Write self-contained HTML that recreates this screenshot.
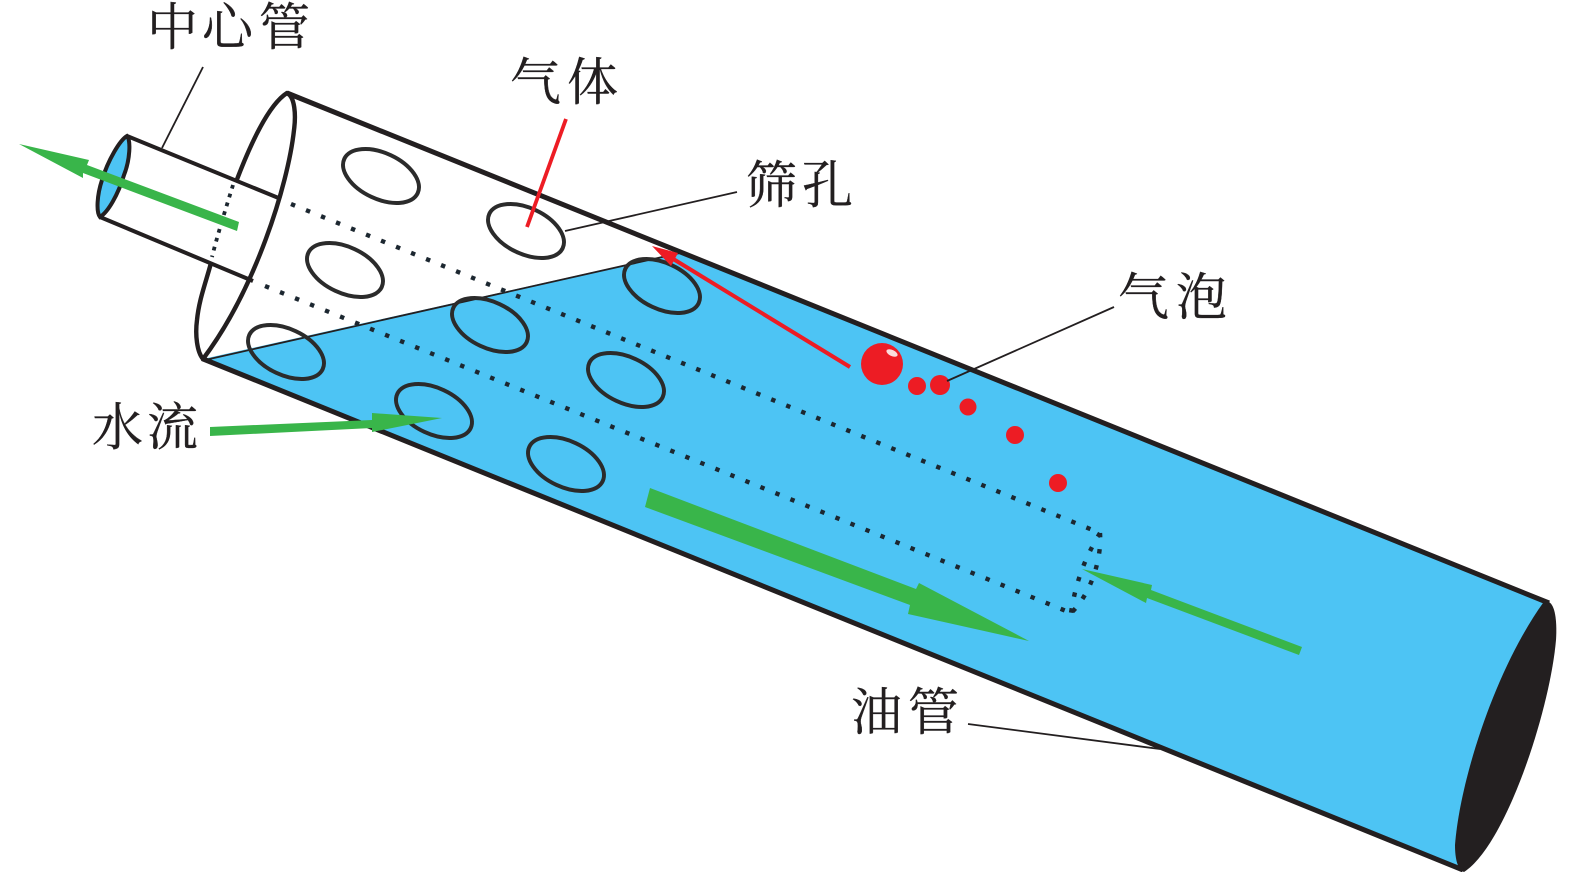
<!DOCTYPE html>
<html><head><meta charset="utf-8"><style>
html,body{margin:0;padding:0;background:#fff;width:1575px;height:872px;overflow:hidden}
svg{display:block}
text{font-family:"Liberation Serif","Noto Serif CJK SC",serif;font-size:51px;fill:#231f20;stroke:#231f20;stroke-width:.35}
</style></head><body>
<svg width="1575" height="872" viewBox="0 0 1575 872" xmlns="http://www.w3.org/2000/svg">
<!-- water -->
<path d="M203,359 L660,257 L680,253 L1549,603 L1463,870 Z" fill="#4dc4f4"/>
<!-- dark end -->
<path d="M1543,603 C1495,670 1460,780 1455,845 C1455,860 1458,870 1464,872 C1506,845 1550,710 1556,640 C1557,625 1556,606 1549,602 Z" fill="#231f20"/>
<!-- water edge -->
<line x1="205" y1="360" x2="680" y2="253" stroke="#231f20" stroke-width="1.8"/>
<!-- tube edges -->
<line x1="287" y1="93" x2="1549" y2="603" stroke="#231f20" stroke-width="5"/>
<line x1="202" y1="358.5" x2="1463" y2="870" stroke="#231f20" stroke-width="5"/>
<!-- tube opening: hidden section between the center tube lines is dotted -->
<g fill="none" stroke="#231f20" stroke-width="4.4" stroke-linejoin="round">
<path d="M236,182 C250,145 268,105 287,93 C295,97 296,115 294,130 C288,185 255,290 203,359 C197,352 195,335 197,320 C199,300 205,285 211,263"/>
</g>
<!-- holes -->
<g fill="none" stroke="#2b2b2b" stroke-width="4">
<ellipse cx="381" cy="176" rx="40.5" ry="23" transform="rotate(25 381 176)"/>
<ellipse cx="345" cy="270" rx="40.5" ry="23" transform="rotate(25 345 270)"/>
<ellipse cx="286" cy="352" rx="40.5" ry="23" transform="rotate(25 286 352)"/>
<ellipse cx="526" cy="231" rx="40.5" ry="23" transform="rotate(25 526 231)"/>
<ellipse cx="662" cy="286" rx="40.5" ry="23" transform="rotate(25 662 286)"/>
<ellipse cx="490" cy="325" rx="40.5" ry="23" transform="rotate(25 490 325)"/>
<ellipse cx="626" cy="380" rx="40.5" ry="23" transform="rotate(25 626 380)"/>
<ellipse cx="434" cy="411" rx="40.5" ry="23" transform="rotate(25 434 411)"/>
<ellipse cx="566" cy="464" rx="40.5" ry="23" transform="rotate(25 566 464)"/>
</g>
<!-- center tube -->
<path d="M127,136 C131,140 130,160 124,175 C118,195 108,212 100,217 C96,212 97,195 102,180 C108,160 120,140 127,136 Z" fill="#4dc4f4" stroke="#231f20" stroke-width="4"/>
<g fill="none" stroke="#231f20" stroke-width="4">
<line x1="127" y1="136" x2="281" y2="199"/>
<line x1="100" y1="217" x2="253" y2="281"/>
</g>
<!-- dotted -->
<g fill="none" stroke="#1c2730" stroke-width="4.4" stroke-dasharray="4.4 11.8">
<line x1="291" y1="204" x2="1100" y2="533"/>
<line x1="265" y1="286" x2="1071" y2="613"/>
<path d="M1100,533 C1086,556 1076,580 1071,613"/>
<path d="M1100,533 C1102,560 1090,595 1071,613"/>
</g>
<path d="M233,185 C226,208 218,233 212,257" fill="none" stroke="#1c2730" stroke-width="3.8" stroke-dasharray="3.8 5.4"/>
<!-- green arrows -->
<g fill="#39b54a" stroke="none">
<path d="M19,144 L89,160 L87,165 L239,222 L237,231 L83,173 L83,178 Z"/>
<path d="M210,427 L372,420 L372,413 L442,418 L372,432 L372,428 L210,436 Z"/>
<path d="M650,488 L916,589 L919,583 L1029,641 L908,614 L910,605 L645,507 Z"/>
<path d="M1082,569 L1152,585 L1151,590 L1302,647 L1299,655 L1147,598 L1146,603 Z"/>
</g>
<!-- red -->
<line x1="566" y1="119" x2="527" y2="227" stroke="#ed1c24" stroke-width="3.8"/>
<line x1="670" y1="257" x2="850" y2="367" stroke="#ed1c24" stroke-width="4"/>
<path d="M652,246 L678,253 L671,266 Z" fill="#ed1c24"/>
<circle cx="882" cy="364" r="21" fill="#ed1c24"/>
<ellipse cx="892" cy="353" rx="6" ry="3" fill="#fbdcdc" transform="rotate(25 892 353)"/>
<g fill="#ed1c24">
<circle cx="917" cy="386" r="9"/>
<circle cx="940" cy="385" r="10"/>
<circle cx="968" cy="407" r="8.5"/>
<circle cx="1015" cy="435" r="9"/>
<circle cx="1058" cy="483" r="9"/>
</g>
<!-- leaders -->
<g stroke="#231f20" stroke-width="1.8" fill="none">
<line x1="203" y1="67" x2="162" y2="148"/>
<line x1="737" y1="192" x2="565" y2="231"/>
<line x1="1114" y1="307" x2="947" y2="381"/>
<line x1="968" y1="724" x2="1160" y2="749"/>
</g>
<!-- labels -->
<text x="147" y="45">中</text><text x="202" y="45">心</text><text x="259" y="45">管</text>
<text x="510" y="100">气</text><text x="567" y="100">体</text>
<text x="746" y="203">筛</text><text x="802" y="203">孔</text>
<text x="1118" y="315">气</text><text x="1176" y="315">泡</text>
<text x="851" y="730">油</text><text x="908" y="730">管</text>
<text x="92" y="445">水</text><text x="147" y="445">流</text>
</svg>
</body></html>
